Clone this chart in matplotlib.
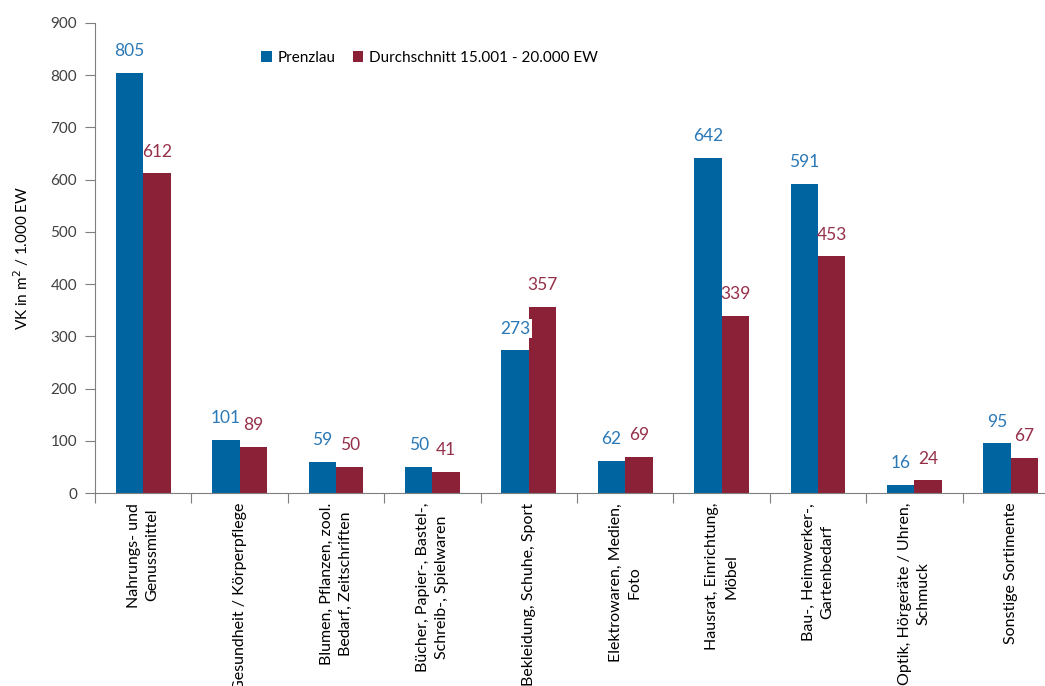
import matplotlib.pyplot as plt
import numpy as np

categories = [
    "Nahrungs- und\nGenussmittel",
    "Gesundheit / Körperpflege",
    "Blumen, Pflanzen, zool.\nBedarf, Zeitschriften",
    "Bücher, Papier-, Bastel-,\nSchreib-, Spielwaren",
    "Bekleidung, Schuhe, Sport",
    "Elektrowaren, Medien,\nFoto",
    "Hausrat, Einrichtung,\nMöbel",
    "Bau-, Heimwerker-,\nGartenbedarf",
    "Optik, Hörgeräte / Uhren,\nSchmuck",
    "Sonstige Sortimente",
]
prenzlau = [805, 101, 59, 50, 273, 62, 642, 591, 16, 95]
durchschnitt = [612, 89, 50, 41, 357, 69, 339, 453, 24, 67]
series_names = ["Prenzlau", "Durchschnitt 15.001 - 20.000 EW"]
yticks = [0, 100, 200, 300, 400, 500, 600, 700, 800, 900]

plt.rcParams['font.family'] = ['Lato', 'DejaVu Sans']

blue = "#0064a1"
red = "#8a2136"
blue_txt = "#2a78b6"
red_txt = "#953049"
grey = "#7f7f7f"

fig = plt.figure(figsize=(10.45, 6.86), dpi=100)
ax = fig.add_axes([0.0909, 0.2813, 0.9225, 0.6852])

x = np.arange(len(categories))
w = 0.285
b1 = ax.bar(x - w / 2, prenzlau, w, color=blue, label=series_names[0], zorder=2)
b2 = ax.bar(x + w / 2, durchschnitt, w, color=red, label=series_names[1], zorder=2)

for rect, v in zip(b2, durchschnitt):
    ax.annotate(str(v), (rect.get_x() + rect.get_width() / 2, v), xytext=(0, 10),
                textcoords="offset points", ha="center", va="bottom",
                fontsize=12.5, color=red_txt, zorder=3)
for rect, v in zip(b1, prenzlau):
    ax.annotate(str(v), (rect.get_x() + rect.get_width() / 2, v), xytext=(0, 10),
                textcoords="offset points", ha="center", va="bottom",
                fontsize=12.5, color=blue_txt, zorder=4,
                bbox=dict(boxstyle="square,pad=0.1", fc="white", ec="none"))

ax.set_xlim(-0.5, len(categories) - 0.5)
ax.set_ylim(0, 900)
ax.set_yticks(yticks)
ax.tick_params(axis="y", direction="out", length=7, color=grey, labelsize=11,
               labelcolor="#404040", pad=6)

# category ticks sit between the groups, labels go at the centres
ax.set_xticks(np.arange(len(categories) + 1) - 0.5)
ax.set_xticklabels([])
ax.tick_params(axis="x", which="major", direction="out", length=7, color=grey)
ax.set_xticks(x, minor=True)
ax.set_xticklabels(categories, minor=True, rotation=90, va="top", ha="center",
                   multialignment="center", fontsize=11.5, linespacing=1.45)
ax.tick_params(axis="x", which="minor", length=0, pad=7)

for s in ["top", "right"]:
    ax.spines[s].set_visible(False)
for s in ["left", "bottom"]:
    ax.spines[s].set_color(grey)

ax.set_ylabel("VK in m$^2$ / 1.000 EW", fontsize=11, labelpad=14)

ax.legend(loc="upper left", bbox_to_anchor=(0.158, 0.97), ncol=2, frameon=False,
          fontsize=11, handlelength=0.7, handleheight=0.7, handletextpad=0.4,
          columnspacing=1.1)

fig.savefig("out.png", dpi=100)
